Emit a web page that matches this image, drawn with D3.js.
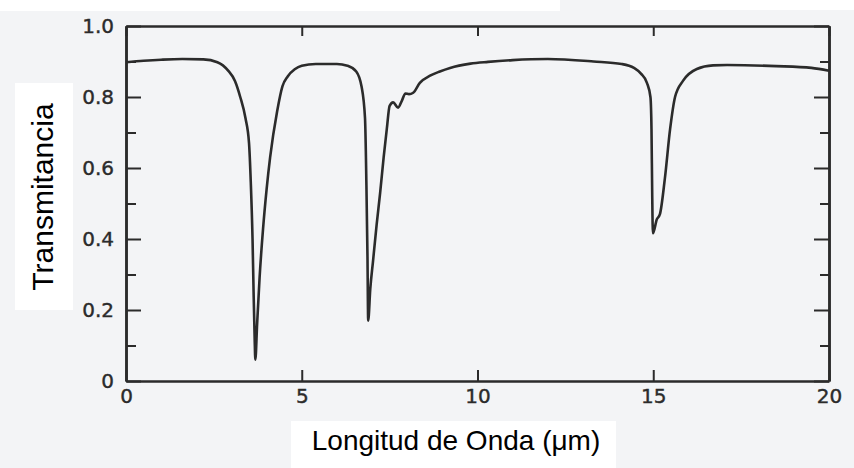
<!DOCTYPE html>
<html>
<head>
<meta charset="utf-8">
<script src="https://cdn.jsdelivr.net/npm/d3@7"></script>
<style>
  html, body { margin: 0; padding: 0; background: #f3f4f6; }
  svg { display: block; }
</style>
</head>
<body>
<svg width="854" height="468"></svg>
<script>
// wavelength (um) and transmittance
const wavelength = [0, 0.5, 1.0, 1.6, 2.2, 2.6, 2.9, 3.1, 3.25, 3.4, 3.5, 3.55, 3.6, 3.63, 3.66, 3.68,
  3.73, 3.8, 3.9, 4.0, 4.1, 4.3, 4.45, 4.6, 4.8, 5.0, 5.4, 6.0, 6.3, 6.55, 6.7, 6.8, 6.84, 6.87, 6.89,
  6.95, 7.03, 7.13, 7.23, 7.33, 7.42, 7.5, 7.6, 7.74, 7.85, 7.95, 8.05, 8.17, 8.36, 8.65, 8.93, 9.22,
  9.8, 10.3, 11.0, 12.0, 13.3, 14.1, 14.45, 14.65, 14.82, 14.92, 14.95, 14.97, 14.99,
  15.1, 15.19, 15.33, 15.48, 15.62, 15.85, 16.24, 16.7, 17.1, 18.5, 19.5, 20];
const transmittance = [0.898, 0.902, 0.905, 0.907, 0.906, 0.898, 0.875, 0.845, 0.80, 0.74, 0.67, 0.56, 0.40, 0.25, 0.12, 0.06,
  0.16, 0.29, 0.43, 0.54, 0.63, 0.76, 0.83, 0.858, 0.878, 0.888, 0.893, 0.893, 0.888, 0.872, 0.83, 0.74, 0.55, 0.35, 0.17,
  0.26, 0.34, 0.44, 0.53, 0.63, 0.71, 0.775, 0.785, 0.77, 0.79, 0.81, 0.808, 0.812, 0.84, 0.86, 0.872, 0.882,
  0.894, 0.899, 0.904, 0.907, 0.90, 0.893, 0.882, 0.866, 0.84, 0.80, 0.71, 0.53, 0.416,
  0.455, 0.47, 0.57, 0.71, 0.80, 0.846, 0.879, 0.889, 0.89, 0.887, 0.882, 0.874];

const xTicks = [0, 5, 10, 15, 20];
const yMajor = [0, 0.2, 0.4, 0.6, 0.8, 1.0];
const yMinor = [0.1, 0.3, 0.5, 0.7, 0.9];
const xTitle = "Longitud de Onda (\u03bcm)";
const yTitle = "Transmitancia";

const svg = d3.select("svg");
const ink = "#2b2b2b";

const x = d3.scaleLinear().domain([0, 20]).range([126, 829]);
const y = d3.scaleLinear().domain([0, 1]).range([381, 26]);

// white pasted boxes behind the titles
svg.append("rect").attr("x", 0).attr("y", 0).attr("width", 560).attr("height", 11).attr("fill", "#fff");
svg.append("rect").attr("x", 630).attr("y", 0).attr("width", 224).attr("height", 10).attr("fill", "#fff");
svg.append("rect").attr("x", 15).attr("y", 83).attr("width", 58).attr("height", 227).attr("fill", "#fff");
svg.append("rect").attr("x", 291).attr("y", 421).attr("width", 325).attr("height", 47).attr("fill", "#fff");

function styleAxis(g) {
  g.select(".domain").attr("stroke", ink).attr("stroke-width", 2.5);
  g.selectAll(".tick line").attr("stroke", ink).attr("stroke-width", 2);
  g.selectAll(".tick text")
    .attr("fill", ink)
    .attr("font-family", "DejaVu Sans, sans-serif")
    .attr("font-size", 20)
    .attr("stroke", ink)
    .attr("stroke-width", 0.4);
}

const fmtY = d => d === 0 ? "0" : d3.format(".1f")(d);

svg.append("g").attr("transform", `translate(${x(0)},0)`)
  .call(d3.axisLeft(y).tickValues(yMinor).tickSize(-10).tickSizeOuter(0).tickFormat(""))
  .call(styleAxis);
svg.append("g").attr("transform", `translate(${x(0)},0)`)
  .call(d3.axisLeft(y).tickValues(yMajor).tickSize(-15).tickSizeOuter(0).tickPadding(12).tickFormat(fmtY))
  .call(styleAxis);

svg.append("g").attr("transform", `translate(${x(20)},0)`)
  .call(d3.axisRight(y).tickValues(yMinor).tickSize(-9).tickSizeOuter(0).tickFormat(""))
  .call(styleAxis);
svg.append("g").attr("transform", `translate(${x(20)},0)`)
  .call(d3.axisRight(y).tickValues(yMajor).tickSize(-15).tickSizeOuter(0).tickFormat(""))
  .call(styleAxis);

svg.append("g").attr("transform", `translate(0,${y(0)})`)
  .call(d3.axisBottom(x).tickValues(xTicks).tickSize(-11).tickSizeOuter(0).tickPadding(8).tickFormat(d3.format("d")))
  .call(styleAxis);
svg.append("g").attr("transform", `translate(0,${y(1)})`)
  .call(d3.axisTop(x).tickValues(xTicks).tickSize(-10).tickSizeOuter(0).tickFormat(""))
  .call(styleAxis);

const pts = wavelength.map((w, i) => [w, transmittance[i]]);
svg.append("path")
  .datum(pts)
  .attr("fill", "none")
  .attr("stroke", ink)
  .attr("stroke-width", 2.6)
  .attr("stroke-linejoin", "round")
  .attr("d", d3.line().x(d => x(d[0])).y(d => y(d[1])).curve(d3.curveMonotoneX));

svg.append("text")
  .attr("x", 456).attr("y", 450)
  .attr("text-anchor", "middle")
  .attr("font-family", "Liberation Sans, Arial, sans-serif")
  .attr("font-size", 28)
  .attr("fill", "#000")
  .text(xTitle);

svg.append("text")
  .attr("transform", "translate(53,197) rotate(-90)")
  .attr("text-anchor", "middle")
  .attr("font-family", "Liberation Sans, Arial, sans-serif")
  .attr("font-size", 30)
  .attr("fill", "#000")
  .text(yTitle);
</script>
</body>
</html>
